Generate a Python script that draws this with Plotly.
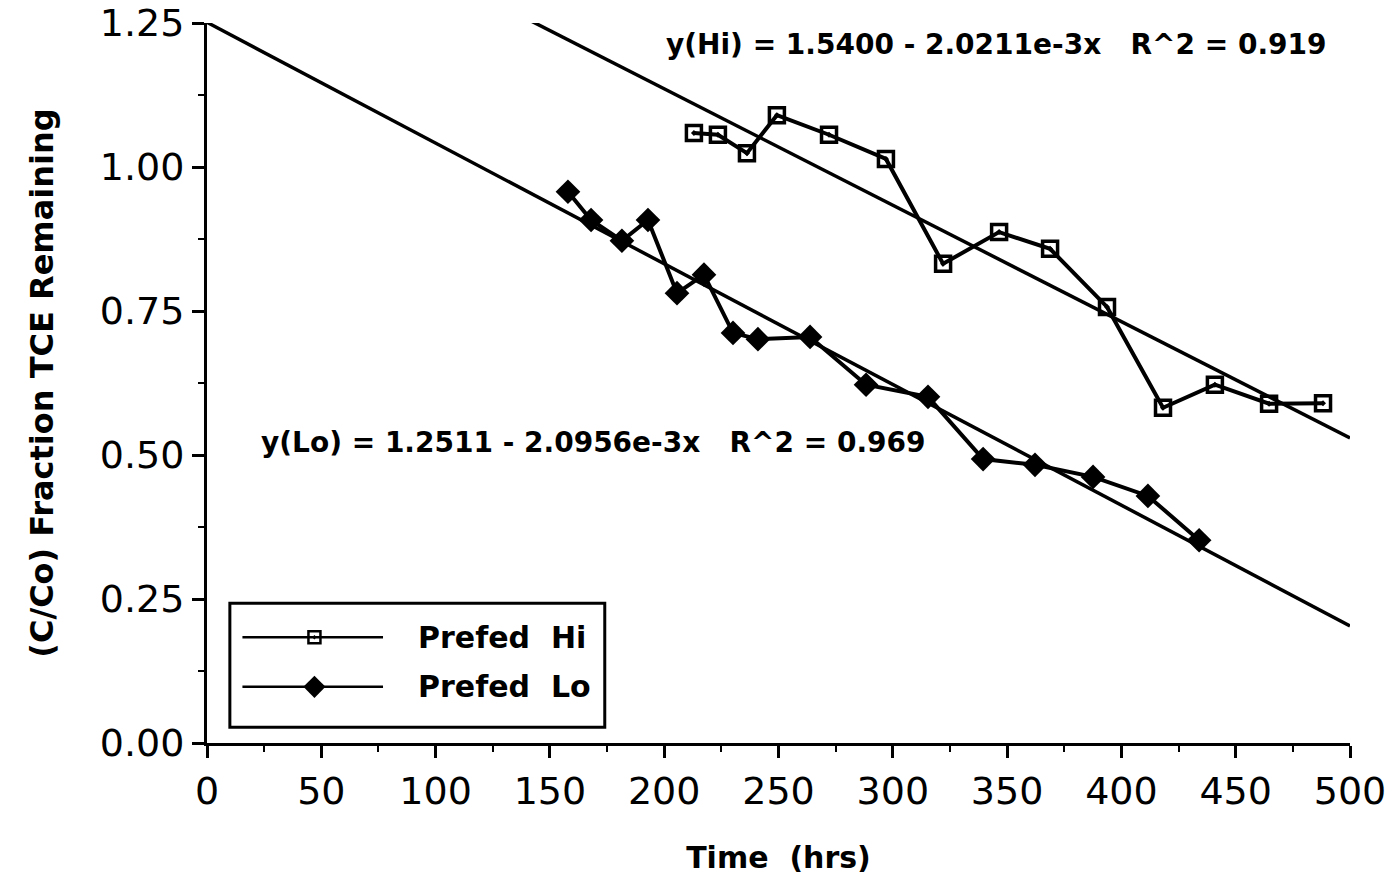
import plotly.graph_objects as go

# ---- data ----
hi_time = [213.0, 223.5, 236.2, 249.3, 272.1, 297.0, 322.0, 346.5, 368.8, 393.7, 418.2, 440.9, 464.6, 488.2]
hi_frac = [1.059, 1.056, 1.024, 1.090, 1.056, 1.014, 0.832, 0.887, 0.858, 0.757, 0.582, 0.622, 0.589, 0.590]
lo_time = [157.9, 168.0, 181.5, 192.9, 205.6, 217.4, 230.1, 241.0, 263.8, 288.3, 315.4, 339.5, 362.2, 387.6, 411.6, 434.0]
lo_frac = [0.957, 0.908, 0.872, 0.908, 0.781, 0.813, 0.712, 0.701, 0.705, 0.622, 0.601, 0.493, 0.483, 0.462, 0.429, 0.352]

hi_fit = (1.5400, -2.0211e-3)
lo_fit = (1.2511, -2.0956e-3)
fit_x = [0, 500]

x_ticks = [0, 50, 100, 150, 200, 250, 300, 350, 400, 450, 500]
y_ticks = [0.00, 0.25, 0.50, 0.75, 1.00, 1.25]

FONT = "DejaVu Sans"
BLACK = "black"

fig = go.Figure()

# regression lines
for a, b in (hi_fit, lo_fit):
    fig.add_trace(go.Scatter(x=fit_x, y=[a + b * x for x in fit_x], mode="lines",
                             line=dict(color=BLACK, width=3.5), showlegend=False,
                             hoverinfo="skip"))

fig.add_trace(go.Scatter(x=hi_time, y=hi_frac, mode="lines+markers", name="Prefed Hi",
                         line=dict(color=BLACK, width=4),
                         marker=dict(symbol="square-open-dot", size=15, color=BLACK,
                                     line=dict(width=3.5, color=BLACK)),
                         showlegend=False))
fig.add_trace(go.Scatter(x=lo_time, y=lo_frac, mode="lines+markers", name="Prefed Lo",
                         line=dict(color=BLACK, width=4),
                         marker=dict(symbol="diamond", size=19, color=BLACK),
                         showlegend=False))

# custom legend (paper-fraction overlay axes)
leg_y = [0.147, 0.078]
for yy, sym, sz, lw in ((leg_y[0], "square-open-dot", 12, 2.5), (leg_y[1], "diamond", 17, 0)):
    fig.add_trace(go.Scatter(x=[0.031, 0.154], y=[yy] * 2, mode="lines", xaxis="x2", yaxis="y2",
                             line=dict(color=BLACK, width=2.5), showlegend=False, hoverinfo="skip"))
    fig.add_trace(go.Scatter(x=[0.094], y=[yy], mode="markers", xaxis="x2", yaxis="y2",
                             marker=dict(symbol=sym, size=sz, color=BLACK,
                                         line=dict(width=lw, color=BLACK)),
                             showlegend=False, hoverinfo="skip"))

fig.add_shape(type="rect", xref="paper", yref="paper", x0=0.020, x1=0.348, y0=0.022, y1=0.194,
              line=dict(color=BLACK, width=3), fillcolor="white", layer="below")

for txt, yy in (("Prefed  Hi", leg_y[0]), ("Prefed  Lo", leg_y[1])):
    fig.add_annotation(text=txt, xref="paper", yref="paper", x=0.183, y=yy, xanchor="left",
                       yanchor="middle", showarrow=False,
                       font=dict(family=FONT, size=30, color=BLACK, weight="bold"))

fig.add_annotation(text="y(Hi) = 1.5400 - 2.0211e-3x   R^2 = 0.919", x=(664 - 207) / 2.286, y=1.212,
                   xref="x", yref="y", xanchor="left", yanchor="middle", showarrow=False,
                   font=dict(family=FONT, size=28, color=BLACK, weight="bold"))
fig.add_annotation(text="y(Lo) = 1.2511 - 2.0956e-3x   R^2 = 0.969", x=(259 - 207) / 2.286, y=0.521,
                   xref="x", yref="y", xanchor="left", yanchor="middle", showarrow=False,
                   font=dict(family=FONT, size=28, color=BLACK, weight="bold"))

fig.update_layout(
    width=1395, height=883,
    margin=dict(l=199, r=53, t=15, b=148),
    paper_bgcolor="white", plot_bgcolor="white",
    font=dict(family=FONT, color=BLACK),
    xaxis=dict(range=[0, 500], tickvals=x_ticks, ticks="outside", ticklen=12, tickwidth=3,
               tickcolor=BLACK, showline=True, linewidth=3, linecolor=BLACK, showgrid=False,
               zeroline=False, tickfont=dict(size=38, family=FONT), automargin=False,
               ticklabeloverflow="allow",
               minor=dict(tickvals=list(range(25, 500, 50)), ticks="outside", ticklen=6,
                          tickwidth=2, tickcolor=BLACK),
               title=dict(text="Time  (hrs)", font=dict(size=30, family=FONT, weight="bold"),
                          standoff=36)),
    yaxis=dict(range=[0, 1.25], tickvals=y_ticks, ticktext=[f"{v:.2f}" for v in y_ticks],
               ticks="outside", ticklen=12, tickwidth=3, tickcolor=BLACK, showline=True,
               linewidth=3, linecolor=BLACK, showgrid=False, zeroline=False,
               tickfont=dict(size=38, family=FONT), automargin=False,
               ticklabeloverflow="allow",
               minor=dict(tickvals=[0.125, 0.375, 0.625, 0.875, 1.125], ticks="outside",
                          ticklen=6, tickwidth=2, tickcolor=BLACK),
               title=dict(text="(C/Co) Fraction TCE Remaining",
                          font=dict(size=32, family=FONT, weight="bold"), standoff=37)),
    xaxis2=dict(range=[0, 1], overlaying="x", visible=False, fixedrange=True),
    yaxis2=dict(range=[0, 1], overlaying="y", visible=False, fixedrange=True),
    showlegend=False,
)

fig.write_html("out.html")
